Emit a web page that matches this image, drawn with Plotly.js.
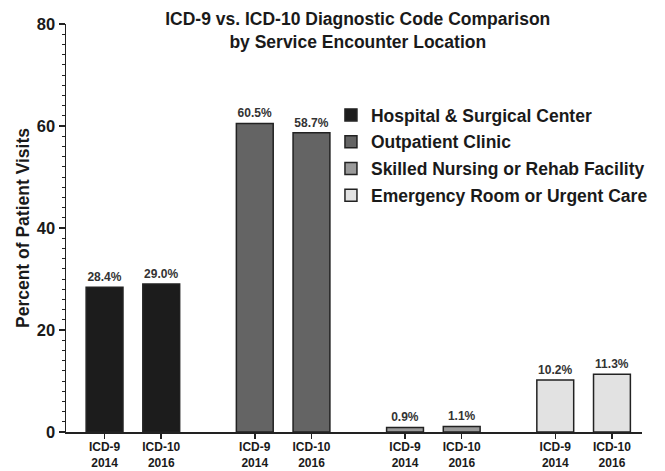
<!DOCTYPE html>
<html><head><meta charset="utf-8">
<script src="https://cdn.plot.ly/plotly-3.0.1.min.js"></script>
<style>html,body{margin:0;padding:0;background:#fff}#chart{width:665px;height:471px}</style>
</head><body><div id="chart"></div>
<script>
var locations = ["Hospital & Surgical Center", "Outpatient Clinic", "Skilled Nursing or Rehab Facility", "Emergency Room or Urgent Care"];
var codeLabels = ["ICD-9<br>2014", "ICD-10<br>2016"];
var icd9_2014 = [28.4, 60.5, 0.9, 10.2];
var icd10_2016 = [29.0, 58.7, 1.1, 11.3];
var colors = ["#1c1c1c", "#646464", "#9a9a9a", "#e2e2e2"];

var groupStep = 2.65;
var traces = [], tickvals = [], ticktext = [];
locations.forEach(function(loc, g){
  var xs = [g*groupStep, g*groupStep + 1];
  var ys = [icd9_2014[g], icd10_2016[g]];
  xs.forEach(function(x, i){ tickvals.push(x); ticktext.push(codeLabels[i]); });
  traces.push({
    type: "bar", name: loc, x: xs, y: ys, width: 0.65,
    legendgroup: "g" + g,
    marker: {color: colors[g], line: {color: "#222", width: 1.5}},
    text: ys.map(function(v){ return v.toFixed(1) + "%"; }),
    textposition: "outside", cliponaxis: false,
    textfont: {family: "Liberation Sans, Arial", size: 12, color: "#333", weight: "bold"},
    hoverinfo: "skip"
  });
});

var layout = {
  width: 665, height: 471,
  margin: {l: 66, r: 15, t: 24, b: 39},
  paper_bgcolor: "#fff", plot_bgcolor: "#fff",
  font: {family: "Liberation Sans, Arial", color: "#1a1a1a"},
  title: {text: "<b>ICD-9 vs. ICD-10 Diagnostic Code Comparison<br>by Service Encounter Location</b>",
          font: {size: 17.5, family: "Liberation Sans, Arial", color: "#1a1a1a"},
          x: 0.538, xanchor: "center", xref: "container", y: 0.947, yanchor: "middle", yref: "container"},
  bargap: 0,
  showlegend: true,
  legend: {x: 0.46, xanchor: "left", y: 0.821, yanchor: "top", traceorder: "grouped", tracegroupgap: 1,
           font: {size: 17.5, family: "Liberation Sans, Arial", color: "#1a1a1a", weight: "bold"},
           bgcolor: "rgba(0,0,0,0)", itemclick: false},
  xaxis: {range: [-0.68, 9.48], tickmode: "array", tickvals: tickvals, ticktext: ticktext,
          showgrid: false, zeroline: false, showline: true, linecolor: "#222", linewidth: 1.5,
          ticks: "outside", ticklen: 5, tickwidth: 1.5, tickcolor: "#222", ticklabelstandoff: -2,
          tickfont: {size: 12, family: "Liberation Sans, Arial", color: "#1a1a1a", weight: "bold"}},
  yaxis: {range: [0, 80], tickmode: "linear", tick0: 0, dtick: 20,
          showgrid: false, zeroline: false, showline: true, linecolor: "#222", linewidth: 1.5,
          ticks: "outside", ticklen: 6, tickwidth: 1.5, tickcolor: "#222",
          minor: {dtick: 2, ticks: "outside", ticklen: 3, tickwidth: 1, tickcolor: "#222", showgrid: false},
          tickfont: {size: 16.5, family: "Liberation Sans, Arial", color: "#1a1a1a", weight: "bold"},
          title: {text: "<b>Percent of Patient Visits</b>", standoff: 2,
                  font: {size: 17.5, family: "Liberation Sans, Arial", color: "#1a1a1a"}}}
};
Plotly.newPlot("chart", traces, layout, {displayModeBar: false, staticPlot: true});
</script></body></html>
